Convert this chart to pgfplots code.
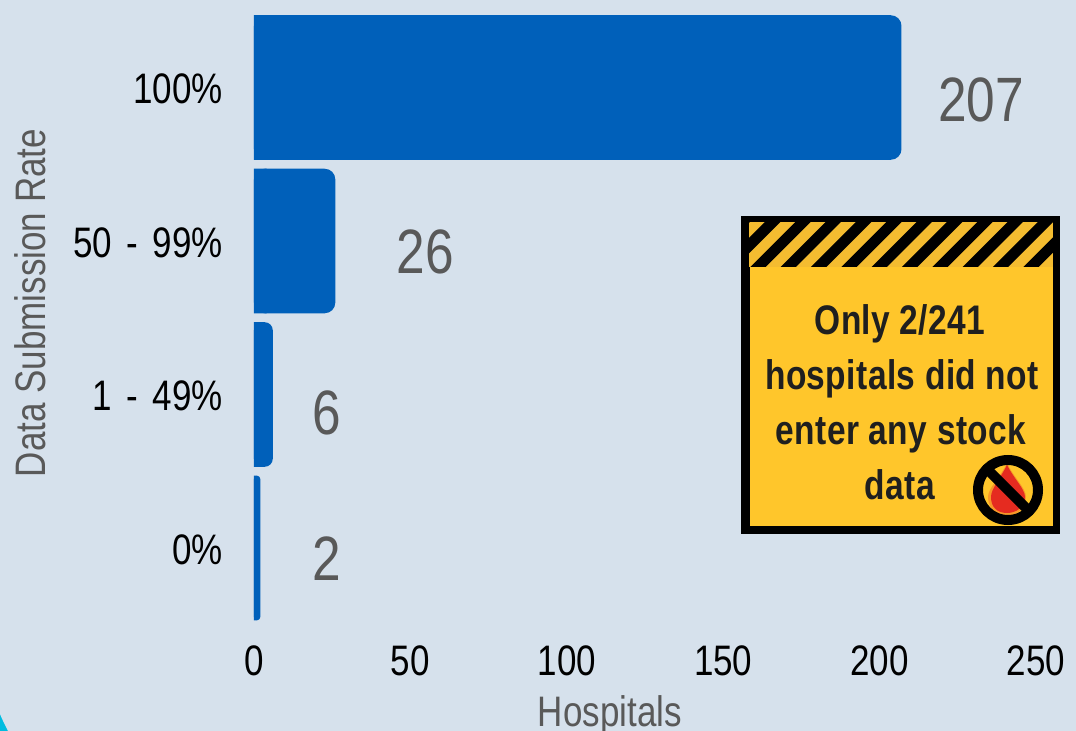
\documentclass[border=0pt]{standalone}
\usepackage{pgfplots}
\usepackage{fontspec}
\pgfplotsset{compat=1.18}
\setmainfont[FakeStretch=0.82]{Liberation Sans}
\newfontfamily\calloutfont[FakeStretch=0.81,LetterSpace=1]{Liberation Sans Bold}
\definecolor{bgc}{HTML}{D6E1EC}
\definecolor{barc}{HTML}{0060BA}
\definecolor{greyc}{HTML}{595959}
\definecolor{yel}{HTML}{FFC62B}
\definecolor{yeldk}{HTML}{F4BC30}
\definecolor{txt}{HTML}{1F1F1F}
\definecolor{cy}{HTML}{00BCE0}
\definecolor{dropr}{HTML}{E52B20}
\pgfplotstableread{
y x
2 26
3 207
}\bigbars
\pgfplotstableread{
y x
1 6
}\midbar
\pgfplotstableread{
y x
0 2
}\smallbar
\pgfplotstableread{
y x
0 1
1 3
2 4
3 4
}\basedata
\pgfplotstableread{
px py lab
23.3 -0.07 2
23.3 0.88 6
54.7 1.93 26
232.5 2.92 207
}\labeldata
\begin{document}
\begin{tikzpicture}
\begin{scope}[x=0.75pt,y=-0.75pt]
\useasboundingbox (0,0) rectangle (1076,731);
\clip (0,0) rectangle (1076,731);
\fill[cy] (0,731) rectangle (8,714);
\fill[bgc] (0,0) -- (1076,0) -- (1076,731) -- (8,731) .. controls (5,725) and (2,719) .. (0,714) -- cycle;
\coordinate (o) at (254,624.75);
\begin{axis}[
  at={(o)}, anchor=south west,
  scale only axis, width=586.5pt, height=460.5pt,
  xmin=0, xmax=250, ymin=-0.5, ymax=3.5,
  xbar, bar shift=0pt, bar width=108.4pt,
  axis line style={draw=none},
  major tick length=0pt,
  xtick={0,50,100,150,200,250},
  ytick={0,1,2,3},
  yticklabels={0\%,1\hspace{3.4pt} - \hspace{3.4pt}49\%,50\hspace{3.4pt} - \hspace{3.4pt}99\%,100\%},
  /pgf/number format/assume math mode=true,
  tick label style={font=\fontsize{32}{36}\selectfont,text=black},
  xticklabel style={yshift=-12pt},
  yticklabel style={xshift=-20pt,yshift=-1pt},
  xlabel={Hospitals}, ylabel={Data Submission Rate},
  label style={font=\fontsize{32}{36}\selectfont,text=greyc},
  xlabel style={at={(axis description cs:0.455,-0.147)},anchor=center},
  ylabel style={at={(axis description cs:-0.2864,0.524)},anchor=center},
  clip=false,
]
\addplot[fill=barc,draw=none,rounded corners=8pt] table[x=x,y=y] {\bigbars};
\addplot[fill=barc,draw=none,rounded corners=6pt] table[x=x,y=y] {\midbar};
\addplot[fill=barc,draw=none,rounded corners=2.4pt] table[x=x,y=y] {\smallbar};
\addplot[fill=barc,draw=none] table[x=x,y=y] {\basedata};
\addplot[xbar=0pt,draw=none,fill=none,only marks,mark=none,
  point meta=explicit symbolic,
  nodes near coords,
  every node near coord/.append style={anchor=center,font=\fontsize{47}{50}\selectfont,text=greyc}]
  table[x=px,y=py,meta=lab] {\labeldata};
\end{axis}
% callout
\fill[black] (741,216) rectangle (1060,534);
\fill[yel] (750,222) rectangle (1053,526);
\fill[yeldk] (749,222) rectangle (1053,267);
\begin{scope}
\clip (749,222) rectangle (1053,267);
\foreach \k in {-2,...,11}{
  \pgfmathsetmacro{\a}{750.3+30.33*\k}
  \pgfmathsetmacro{\b}{\a+15.3}
  \fill[black] (\a,267) -- (\b,267) -- (\b+45,222) -- (\a+45,222) -- cycle;
}
\end{scope}
\begin{scope}[every node/.style={font=\fontsize{31}{34}\calloutfont,text=txt,anchor=center}]
\node at (900,323.5) {Only 2/241};
\node at (902,378.5) {hospitals did not};
\node at (901,433.5) {enter any stock};
\node at (900,485) {data};
\end{scope}
% no-blood icon
\fill[yel!70!dropr] (1007,463) .. controls (1014,478) and (1026,488) .. (1026,497) .. controls (1026,508) and (1017,516) .. (1007,516) .. controls (996,516) and (988,508) .. (988,497) .. controls (988,488) and (1000,478) .. (1007,463) -- cycle;
\fill[dropr] (1007,465) .. controls (1014,479) and (1025,489) .. (1025,497) .. controls (1025,507) and (1016,513) .. (1007,513) .. controls (997,513) and (991,507) .. (991,497) .. controls (991,489) and (1000,479) .. (1007,465) -- cycle;
\draw[black,line width=7.5pt] (1008,490) circle (30);
\draw[black,line width=7.5pt] (985,467) -- (1031,513);
\end{scope}
\end{tikzpicture}
\end{document}
